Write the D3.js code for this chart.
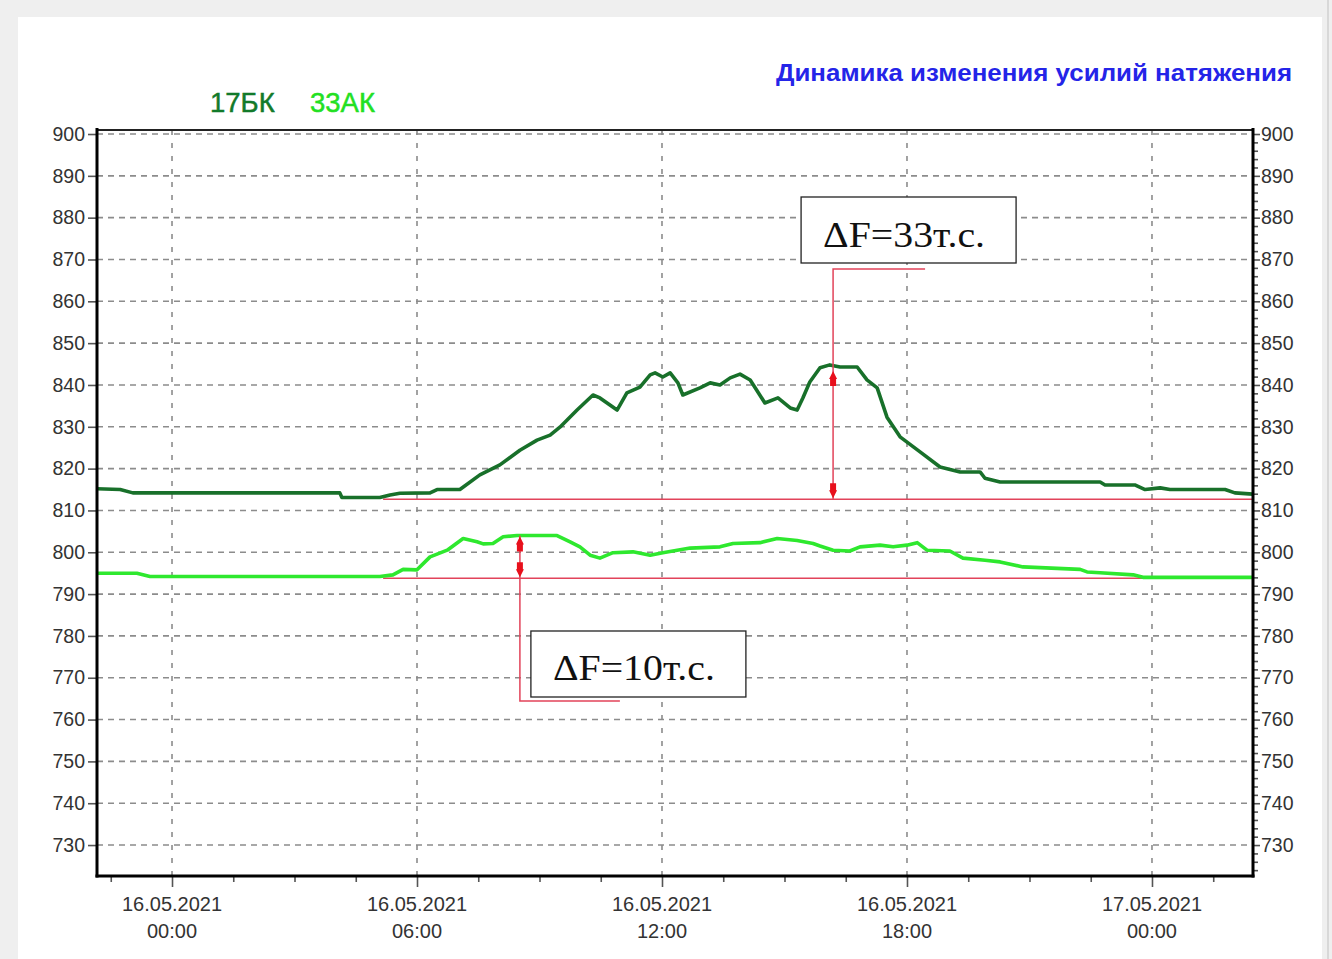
<!DOCTYPE html>
<html>
<head>
<meta charset="utf-8">
<script src="https://cdn.jsdelivr.net/npm/d3@7"></script>
<style>
  html, body { margin: 0; padding: 0; background: #ffffff; }
  svg { display: block; }
</style>
</head>
<body>
<svg id="chart" width="1332" height="959"></svg>
<script>
// ---------- DATA ----------
const title = "Динамика изменения усилий натяжения";
const seriesNames = ["17БК", "33АК"];

// hours from 16.05.2021 00:00
const hours17 = [-1.84, -1.27, -0.96, 4.11, 4.16, 5.09, 5.34, 5.58, 6.32, 6.49, 7.05, 7.54, 8.03, 8.52, 8.94, 9.26, 9.50, 9.92, 10.31, 10.48, 10.90, 11.14, 11.46, 11.71, 11.83, 12.02, 12.20, 12.39, 12.51, 12.93, 13.18, 13.42, 13.67, 13.91, 14.16, 14.52, 14.84, 15.14, 15.31, 15.45, 15.62, 15.87, 16.11, 16.36, 16.78, 17.02, 17.27, 17.51, 17.83, 18.32, 18.81, 19.30, 19.79, 19.91, 20.28, 22.73, 22.85, 23.58, 23.83, 24.20, 24.44, 25.79, 26.03, 26.47];
const vals17  = [815.2, 815.0, 814.2, 814.2, 813.1, 813.1, 813.7, 814.1, 814.2, 815.0, 815.0, 818.5, 820.9, 824.4, 826.8, 828.0, 829.9, 834.0, 837.6, 836.9, 834.0, 838.1, 839.5, 842.4, 842.9, 841.9, 842.9, 840.5, 837.6, 839.3, 840.5, 840.0, 841.7, 842.6, 841.2, 835.7, 836.9, 834.5, 834.0, 836.9, 840.7, 844.1, 844.8, 844.3, 844.3, 841.2, 839.3, 832.3, 827.6, 824.0, 820.4, 819.2, 819.2, 817.7, 816.8, 816.8, 816.1, 816.1, 815.0, 815.4, 815.0, 815.0, 814.2, 813.9];

const hours33 = [-1.84, -0.86, -0.54, 5.09, 5.41, 5.66, 6.00, 6.32, 6.74, 7.13, 7.47, 7.62, 7.86, 8.11, 8.45, 9.43, 9.75, 9.99, 10.24, 10.48, 10.80, 11.29, 11.71, 12.02, 12.69, 13.42, 13.74, 14.40, 14.82, 15.31, 15.70, 15.87, 16.19, 16.60, 16.85, 17.34, 17.66, 18.00, 18.25, 18.49, 19.05, 19.37, 19.91, 20.28, 20.84, 22.24, 22.41, 22.73, 23.54, 23.78, 26.47];
const vals33  = [795.0, 795.0, 794.2, 794.2, 794.6, 795.9, 795.8, 798.9, 800.5, 803.3, 802.5, 802.0, 802.1, 803.7, 804.0, 804.0, 802.5, 801.3, 799.3, 798.6, 799.9, 800.1, 799.3, 799.9, 801.0, 801.3, 802.1, 802.3, 803.3, 802.8, 802.1, 801.5, 800.5, 800.3, 801.3, 801.7, 801.3, 801.7, 802.3, 800.5, 800.3, 798.6, 798.1, 797.7, 796.5, 795.9, 795.3, 795.1, 794.6, 794.0, 794.0];

// axis
const xDomainHours = [-1.837, 26.474];
const yDomain = [722.6, 900.96];
const yTicks = [730, 740, 750, 760, 770, 780, 790, 800, 810, 820, 830, 840, 850, 860, 870, 880, 890, 900];
const xTickHours = [0, 6, 12, 18, 24];
const xTickDates = ["16.05.2021", "16.05.2021", "16.05.2021", "16.05.2021", "17.05.2021"];
const xTickTimes = ["00:00", "06:00", "12:00", "18:00", "00:00"];

// annotations (ΔF)
const annoLabels = ["ΔF=33т.с.", "ΔF=10т.с."];
const annoHour = [16.19, 8.52];
const annoTop = [844.8, 804.0];
const annoBase = [812.7, 793.8];
const baseStartHour = 5.17;

// ---------- LAYOUT ----------
const L = 97, R = 1253, T = 130, B = 876;
const base = new Date(2021, 4, 16, 0, 0, 0);
const toDate = h => new Date(base.getTime() + h * 3600000);

const x = d3.scaleTime().domain(xDomainHours.map(toDate)).range([L, R]);
const y = d3.scaleLinear().domain(yDomain).range([B, T]);

const svg = d3.select("#chart");

// background frame
svg.append("rect").attr("x", 0).attr("y", 0).attr("width", 1332).attr("height", 959).attr("fill", "#efefef");
svg.append("rect").attr("x", 18).attr("y", 17).attr("width", 1304).attr("height", 950).attr("fill", "#ffffff");
svg.append("line").attr("x1", 1328).attr("x2", 1328).attr("y1", 0).attr("y2", 959).attr("stroke", "#d8d8d8").attr("stroke-width", 2);

const font = "'Liberation Sans', Arial, sans-serif";
const labelColor = "#333333";

// grid
const gridColor = "#8c8c8c";
svg.append("g").selectAll("line").data(yTicks).join("line")
  .attr("x1", L).attr("x2", R)
  .attr("y1", d => y(d)).attr("y2", d => y(d))
  .attr("stroke", gridColor).attr("stroke-width", 1.6).attr("stroke-dasharray", "6,5");
svg.append("g").selectAll("line").data(xTickHours).join("line")
  .attr("x1", d => x(toDate(d))).attr("x2", d => x(toDate(d)))
  .attr("y1", T).attr("y2", B)
  .attr("stroke", gridColor).attr("stroke-width", 1.6).attr("stroke-dasharray", "5,8");

// axes
const yLeft = d3.axisLeft(y).tickValues(yTicks).tickSize(9).tickPadding(2).tickFormat(d3.format("d"));
const gL = svg.append("g").attr("transform", `translate(${L},0)`).call(yLeft);
const yRightMinor = d3.range(724, 901, 2).filter(v => v % 10 !== 0);
const gRm = svg.append("g").attr("transform", `translate(${R},0)`)
  .call(d3.axisRight(y).tickValues(yRightMinor).tickSize(5).tickFormat(""));
const yRight = d3.axisRight(y).tickValues(yTicks).tickSize(7).tickPadding(1).tickFormat(d3.format("d"));
const gR = svg.append("g").attr("transform", `translate(${R},0)`).call(yRight);

const minorX = d3.range(-1.5, 26.5, 1.5).filter(h => h % 6 !== 0).map(toDate);
const gXm = svg.append("g").attr("transform", `translate(0,${B})`)
  .call(d3.axisBottom(x).tickValues(minorX).tickSize(6).tickFormat(""));
const gX = svg.append("g").attr("transform", `translate(0,${B})`)
  .call(d3.axisBottom(x).tickValues(xTickHours.map(toDate)).tickSize(11).tickFormat(""));

[gL, gR, gRm, gXm, gX].forEach(g => {
  g.select(".domain").remove();
  g.selectAll(".tick line").attr("stroke", "#555").attr("stroke-width", 1.6);
  g.selectAll(".tick text").attr("font-family", font).attr("font-size", 19.5).attr("fill", labelColor);
});
gL.selectAll(".tick text").attr("dx", "-1");

// x tick labels (two lines)
const xl = svg.append("g");
xTickHours.forEach((h, i) => {
  const t = xl.append("text").attr("x", x(toDate(h))).attr("text-anchor", "middle")
    .attr("font-family", font).attr("font-size", 20).attr("fill", labelColor);
  t.append("tspan").attr("x", x(toDate(h))).attr("y", 911).text(xTickDates[i]);
  t.append("tspan").attr("x", x(toDate(h))).attr("y", 938).text(xTickTimes[i]);
});

// baseline red lines
const red = "#e2435a";
annoBase.forEach(v => {
  svg.append("line").attr("x1", x(toDate(baseStartHour))).attr("x2", R)
    .attr("y1", y(v)).attr("y2", y(v)).attr("stroke", red).attr("stroke-width", 1.5);
});

// series lines
const colors = ["#18702a", "#2ee82e"];
const line = d3.line().x(d => x(toDate(d[0]))).y(d => y(d[1]));
const series = [d3.zip(hours17, vals17), d3.zip(hours33, vals33)];
series.forEach((s, i) => {
  svg.append("path").datum(s).attr("d", line).attr("fill", "none")
    .attr("stroke", colors[i]).attr("stroke-width", 3.6).attr("stroke-linejoin", "round");
});

// annotations
function arrowUp(cx, tipY) {
  return `M${cx},${tipY} L${cx + 4},${tipY + 8} L${cx + 3},${tipY + 8} L${cx + 3},${tipY + 15} L${cx - 3},${tipY + 15} L${cx - 3},${tipY + 8} L${cx - 4},${tipY + 8} Z`;
}
function arrowDown(cx, tipY) {
  return `M${cx},${tipY} L${cx + 4},${tipY - 8} L${cx + 3},${tipY - 8} L${cx + 3},${tipY - 15} L${cx - 3},${tipY - 15} L${cx - 3},${tipY - 8} L${cx - 4},${tipY - 8} Z`;
}
const ag = svg.append("g");
// ΔF=33: line from callout above down to base
{
  const cx = x(toDate(annoHour[0]));
  const yTop = y(annoTop[0]), yBase = y(annoBase[0]);
  const yCall = 269;
  ag.append("path").attr("d", `M${cx + 92},${yCall} L${cx},${yCall} L${cx},${yBase}`)
    .attr("fill", "none").attr("stroke", red).attr("stroke-width", 1.5);
  ag.append("path").attr("d", arrowUp(cx, yTop + 6)).attr("fill", "#e8101c");
  ag.append("path").attr("d", arrowDown(cx, yBase - 1)).attr("fill", "#e8101c");
  ag.append("rect").attr("x", cx - 32).attr("y", 197).attr("width", 215).attr("height", 66)
    .attr("fill", "#fff").attr("stroke", "#222").attr("stroke-width", 1.3);
  ag.append("text").attr("x", cx - 10).attr("y", 247).attr("font-family", "'Liberation Serif', 'Times New Roman', serif")
    .attr("font-size", 36).attr("fill", "#111").attr("textLength", 162).attr("lengthAdjust", "spacingAndGlyphs").text(annoLabels[0]);
}
// ΔF=10: line from curve top down to callout below
{
  const cx = x(toDate(annoHour[1]));
  const yTop = y(annoTop[1]), yBase = y(annoBase[1]);
  const yCall = 701;
  ag.append("path").attr("d", `M${cx},${yTop} L${cx},${yCall} L${cx + 100},${yCall}`)
    .attr("fill", "none").attr("stroke", red).attr("stroke-width", 1.5);
  ag.append("path").attr("d", arrowUp(cx, yTop + 1)).attr("fill", "#e8101c");
  ag.append("path").attr("d", arrowDown(cx, yBase - 1)).attr("fill", "#e8101c");
  ag.append("rect").attr("x", cx + 11).attr("y", 631).attr("width", 215).attr("height", 66)
    .attr("fill", "#fff").attr("stroke", "#222").attr("stroke-width", 1.3);
  ag.append("text").attr("x", cx + 33).attr("y", 680).attr("font-family", "'Liberation Serif', 'Times New Roman', serif")
    .attr("font-size", 36).attr("fill", "#111").attr("textLength", 162).attr("lengthAdjust", "spacingAndGlyphs").text(annoLabels[1]);
}

// plot frame
svg.append("line").attr("x1", L).attr("x2", R).attr("y1", T).attr("y2", T).attr("stroke", "#222").attr("stroke-width", 2);
svg.append("line").attr("x1", L).attr("x2", L).attr("y1", T - 2).attr("y2", B + 1.5).attr("stroke", "#000").attr("stroke-width", 3);
svg.append("line").attr("x1", R).attr("x2", R).attr("y1", T - 2).attr("y2", B + 1.5).attr("stroke", "#000").attr("stroke-width", 3);
svg.append("line").attr("x1", L - 1.5).attr("x2", R + 1.5).attr("y1", B).attr("y2", B).attr("stroke", "#000").attr("stroke-width", 3);

// legend
const legendX = [210, 310];
const legendColors = ["#127a2a", "#22e022"];
seriesNames.forEach((n, i) => {
  svg.append("text").attr("x", legendX[i]).attr("y", 112).attr("font-family", font)
    .attr("font-size", 27.5).attr("fill", legendColors[i])
    .attr("stroke", legendColors[i]).attr("stroke-width", 0.5).text(n);
});

// title
svg.append("text").attr("x", 1292).attr("y", 81).attr("text-anchor", "end")
  .attr("font-family", font).attr("font-weight", "bold").attr("font-size", 23)
  .attr("fill", "#2424e8").attr("textLength", 516).attr("lengthAdjust", "spacingAndGlyphs").text(title);
</script>
</body>
</html>
